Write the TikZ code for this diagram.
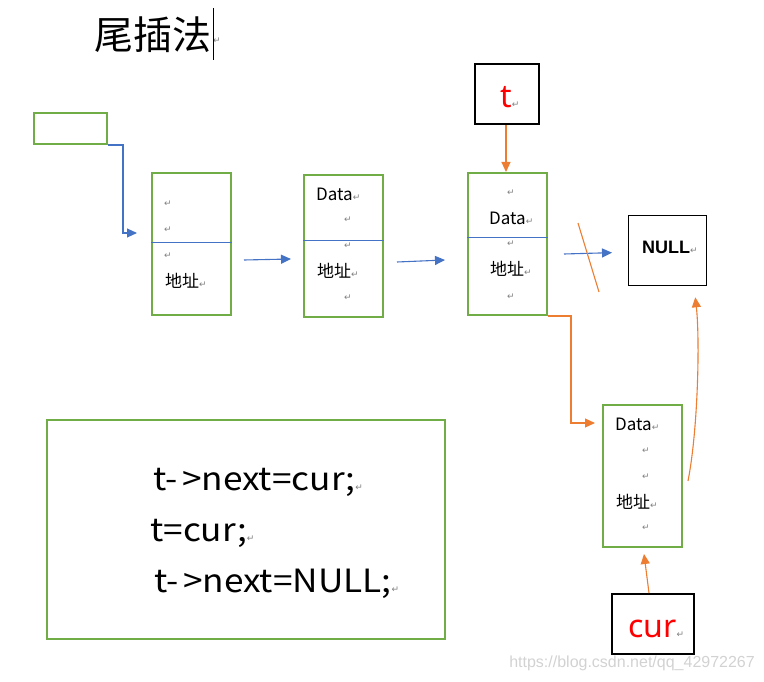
\documentclass[tikz,border=0pt]{standalone}
\usepackage{fontspec}
\usepackage{graphicx}
\setmainfont{Noto Sans}
\newfontfamily\cjk{Noto Sans CJK SC}
\newfontfamily\dejavu{DejaVu Sans}
\newfontfamily\wmfont{Liberation Sans}
\newfontfamily\boldsans{Liberation Sans Bold}
\usetikzlibrary{arrows.meta}
\definecolor{lgreen}{HTML}{70AD47}
\definecolor{lblue}{HTML}{4472C4}
\definecolor{lorange}{HTML}{ED7D31}
\definecolor{retgray}{HTML}{808080}
\definecolor{wmgray}{HTML}{D2D2D2}
\newcommand\rmark{{\dejavu\fontsize{9}{9}\selectfont\color{retgray}↵}}
\newcommand\wideline[1]{\scalebox{1.1}[1]{#1}}
\newcommand\arr{-\hspace{4pt}>}
\begin{document}
\begin{tikzpicture}[x=1pt,y=-1pt,
  cell/.style={draw=lgreen,line width=2pt,minimum width=79pt,minimum height=142pt,anchor=north west,inner sep=0pt},
  ptrbox/.style={draw=black,line width=2pt,anchor=north west,inner sep=0pt},
  ctext/.style={inner sep=0pt,anchor=west,font=\cjk\fontsize{17}{17}\selectfont},
  rtext/.style={inner sep=0pt,anchor=center},
  codetext/.style={inner sep=0pt,anchor=base west,font=\cjk\fontsize{32}{32}\selectfont},
  divider/.style={draw=lblue,line width=0.9pt},
  bluearrow/.style={draw=lblue,line width=1.1pt,-{Triangle[length=10pt,width=9pt]}},
  orangearrow/.style={draw=lorange,line width=1.1pt,-{Triangle[length=10pt,width=9pt]}},
  orangeline/.style={draw=lorange,line width=1.1pt}]
\useasboundingbox (0,0) rectangle (764,682);

% title
\node[inner sep=0pt,anchor=west,font=\cjk\fontsize{39}{39}\selectfont] (title) at (94,35) {尾插法};
\node[rtext] (titleret) at (217,41) {\rmark};
\coordinate (cursortop) at (213,8);
\coordinate (cursorbot) at (213,60);
\draw[black,line width=1pt] (cursortop) -- (cursorbot);

% head box
\node[draw=lgreen,line width=2pt,minimum width=73pt,minimum height=31pt,anchor=north west,inner sep=0pt] (head) at (33,112) {};

% cells
\node[cell] (n1) at (151,172) {};
\node[cell] (n2) at (303,174) {};
\node[cell] (n3) at (467,172) {};
\node[cell] (n4) at (602,404) {};

% dividers
\draw[divider] ([yshift=-70pt]n1.north west) -- ([yshift=-70pt]n1.north east);
\draw[divider] ([yshift=-66pt]n2.north west) -- ([yshift=-66pt]n2.north east);
\draw[divider] ([yshift=-65pt]n3.north west) -- ([yshift=-65pt]n3.north east);

% cell 1 texts
\node[rtext] (r11) at (168,204) {\rmark};
\node[rtext] (r12) at (168,230) {\rmark};
\node[rtext] (r13) at (168,256) {\rmark};
\node[ctext] (a1) at (165,281) {地址\rmark};
% cell 2 texts
\node[ctext] (d2) at (316,194) {Data\rmark};
\node[rtext] (r21) at (348,220) {\rmark};
\node[rtext] (r22) at (348,246) {\rmark};
\node[ctext] (a2) at (317,271) {地址\rmark};
\node[rtext] (r23) at (348,298) {\rmark};
% cell 3 texts
\node[rtext] (r31) at (511,193) {\rmark};
\node[ctext] (d3) at (489,218) {Data\rmark};
\node[rtext] (r32) at (511,244) {\rmark};
\node[ctext] (a3) at (490,269) {地址\rmark};
\node[rtext] (r33) at (511,297) {\rmark};
% cell 4 texts
\node[ctext] (d4) at (615,424) {Data\rmark};
\node[rtext] (r41) at (646,451) {\rmark};
\node[rtext] (r42) at (646,477) {\rmark};
\node[ctext] (a4) at (616,502) {地址\rmark};
\node[rtext] (r43) at (646,528) {\rmark};

% pointer boxes
\node[ptrbox,minimum width=64pt,minimum height=60pt] (t) at (474,63) {};
\node[inner sep=0pt,anchor=base west,font=\fontsize{32}{32}\selectfont,text=red] (tlabel) at (500,108) {t\rmark};
\node[ptrbox,minimum width=82pt,minimum height=60pt] (cur) at (611,593) {};
\node[inner sep=0pt,anchor=base west,font=\fontsize{32}{32}\selectfont,text=red] (curlabel) at (628,637) {cur\rmark};
\node[draw=black,line width=1.3pt,minimum width=78pt,minimum height=70pt,anchor=north west,inner sep=0pt] (null) at (628,215) {};
\node[inner sep=0pt,anchor=base west,font=\boldsans\fontsize{18}{18}\selectfont] (nulllabel) at (642,254) {NULL\rmark};

% code box
\node[draw=lgreen,line width=2pt,minimum width=398pt,minimum height=219pt,anchor=north west,inner sep=0pt] (code) at (46,419) {};
\node[codetext] (c1) at (153,490) {\wideline{t\arr next=cur;}\rmark};
\node[codetext] (c2) at (150,541) {\wideline{t=cur;}\rmark};
\node[codetext] (c3) at (154,592) {\wideline{t\arr next=NULL;}\rmark};

% connectors
\coordinate (k1) at (123,233);
\coordinate (h1) at (137,233);
\draw[bluearrow] (head.south east) -| (k1) -- (h1);
\draw[bluearrow] ([xshift=12pt,yshift=-16pt]n1.east) -- ([xshift=-12pt,yshift=-13pt]n2.west);
\draw[bluearrow] ([xshift=13pt,yshift=-16pt]n2.east) -- ([xshift=-22pt,yshift=-16pt]n3.west);
\draw[bluearrow] ([xshift=16pt,yshift=-10pt]n3.east) -- ([xshift=-16pt,yshift=-2pt]null.west);
\coordinate (s1) at (578,223);
\coordinate (s2) at (599,292);
\draw[orangeline] (s1) -- (s2);
\draw[orangearrow] ([xshift=-1pt]t.south) -- ([xshift=-1.5pt]n3.north);
\coordinate (k2) at (571,423);
\coordinate (h2) at (595,423);
\draw[orangearrow] (n3.south east) -| (k2) -- (h2);
\draw[orangearrow] ([xshift=5pt,yshift=-5pt]n4.east) .. controls (698,430) and (700,340) .. ([xshift=-12pt,yshift=-11pt]null.south east);
\draw[orangearrow] ([xshift=-4pt]cur.north) -- ([xshift=1.5pt,yshift=-6pt]n4.south);

% watermark
\node[inner sep=0pt,anchor=east,font=\wmfont\fontsize{16}{16}\selectfont,text=wmgray] (wm) at (755,663) {https://blog.csdn.net/qq\_42972267};
\end{tikzpicture}
\end{document}
